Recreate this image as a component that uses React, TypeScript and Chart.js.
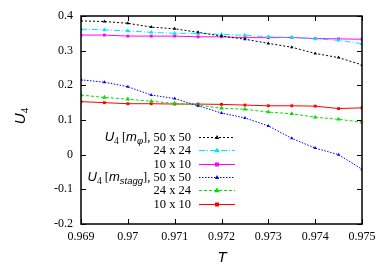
import React, { useEffect, useRef } from 'react';
import { Chart, registerables } from 'chart.js';

Chart.register(...registerables);

const temps = [0.969, 0.9695, 0.97, 0.9705, 0.971, 0.9715, 0.972, 0.9725, 0.973, 0.9735, 0.974, 0.9745, 0.975];
const mphi50 = [0.386, 0.384, 0.379, 0.368, 0.363, 0.353, 0.342, 0.333, 0.321, 0.310, 0.292, 0.280, 0.259];
const mphi24 = [0.362, 0.360, 0.357, 0.353, 0.350, 0.350, 0.347, 0.344, 0.340, 0.338, 0.334, 0.330, 0.320];
const mphi10 = [0.345, 0.345, 0.342, 0.342, 0.342, 0.340, 0.340, 0.3375, 0.3375, 0.338, 0.335, 0.334, 0.333];
const stagg50 = [0.216, 0.209, 0.196, 0.172, 0.162, 0.141, 0.120, 0.106, 0.083, 0.047, 0.019, 0.000, -0.042];
const stagg24 = [0.172, 0.165, 0.160, 0.154, 0.148, 0.143, 0.134, 0.131, 0.123, 0.118, 0.108, 0.102, 0.094];
const stagg10 = [0.153, 0.150, 0.147, 0.147, 0.146, 0.146, 0.145, 0.143, 0.141, 0.141, 0.140, 0.133, 0.135];
const sizeLabels = ['50 x 50', '24 x 24', '10 x 10', '50 x 50', '24 x 24', '10 x 10'];

const SERIF = '"Liberation Serif", "DejaVu Serif", serif';
const SANS = '"Liberation Sans", "DejaVu Sans", sans-serif';

const styles = [
  { color: '#000000', dash: [2, 2], shape: 'triangle', r: 2 },
  { color: '#00e5ff', dash: [6, 2, 1, 2], shape: 'triangle', r: 2.6 },
  { color: '#ff00ff', dash: [], shape: 'rect', r: 2 },
  { color: '#0000ff', dash: [1.5, 1.5], shape: 'triangle', r: 2 },
  { color: '#00e000', dash: [3, 2], shape: 'triangle', r: 2.6 },
  { color: '#ff0000', dash: [], shape: 'rect', r: 2 },
];
const seriesList = [mphi50, mphi24, mphi10, stagg50, stagg24, stagg10];

type Seg = { t: string; f: string; dy?: number };

function drawRich(ctx: CanvasRenderingContext2D, segs: Seg[], rightX: number, baseY: number) {
  let total = 0;
  for (const s of segs) { ctx.font = s.f; total += ctx.measureText(s.t).width; }
  let x = rightX - total;
  ctx.textAlign = 'left';
  ctx.textBaseline = 'alphabetic';
  for (const s of segs) {
    ctx.font = s.f;
    ctx.fillText(s.t, x, baseY + (s.dy || 0));
    x += ctx.measureText(s.t).width;
  }
}

function drawMarker(ctx: CanvasRenderingContext2D, shape: string, x: number, y: number, r: number, color: string) {
  ctx.fillStyle = color;
  ctx.beginPath();
  if (shape === 'rect') {
    ctx.rect(x - r, y - r, 2 * r, 2 * r);
  } else {
    ctx.moveTo(x, y - r * 1.2);
    ctx.lineTo(x + r * 1.1, y + r * 0.7);
    ctx.lineTo(x - r * 1.1, y + r * 0.7);
    ctx.closePath();
  }
  ctx.fill();
}

const framePlugin = {
  id: 'frame',
  afterDraw(chart: any) {
    const { ctx, chartArea: a, scales } = chart;
    ctx.save();
    ctx.strokeStyle = '#000';
    ctx.lineWidth = 1.5;
    ctx.setLineDash([]);
    ctx.strokeRect(a.left, a.top, a.right - a.left, a.bottom - a.top);
    ctx.lineWidth = 1;
    ctx.beginPath();
    scales.y.ticks.forEach((t: any) => {
      const py = Math.round(scales.y.getPixelForValue(t.value)) + 0.5;
      ctx.moveTo(a.left, py); ctx.lineTo(a.left + 5, py);
      ctx.moveTo(a.right, py); ctx.lineTo(a.right - 5, py);
    });
    scales.x.ticks.forEach((t: any) => {
      const px = Math.round(scales.x.getPixelForValue(t.value)) + 0.5;
      ctx.moveTo(px, a.bottom); ctx.lineTo(px, a.bottom - 5);
      ctx.moveTo(px, a.top); ctx.lineTo(px, a.top + 5);
    });
    ctx.stroke();

    // legend
    ctx.fillStyle = '#000';
    const fSerif = `12.5px ${SERIF}`;
    const fIt = `italic 13px ${SANS}`;
    const fSub = `9.5px ${SERIF}`;
    const fSubIt = `italic 9.5px ${SANS}`;
    for (let i = 0; i < 6; i++) {
      const cy = 137 + i * 13.3;
      const base = cy + 4;
      ctx.fillStyle = '#000';
      let segs: Seg[];
      if (i === 0) {
        segs = [
          { t: 'U', f: fIt }, { t: '4', f: fSub, dy: 3 }, { t: ' [', f: fSerif },
          { t: 'm', f: fIt }, { t: 'φ', f: fSubIt, dy: 3 }, { t: '], ' + sizeLabels[i], f: fSerif },
        ];
      } else if (i === 3) {
        segs = [
          { t: 'U', f: fIt }, { t: '4', f: fSub, dy: 3 }, { t: ' [', f: fSerif },
          { t: 'm', f: fIt }, { t: 'stagg', f: fSubIt, dy: 3 }, { t: '], ' + sizeLabels[i], f: fSerif },
        ];
      } else {
        segs = [{ t: sizeLabels[i], f: fSerif }];
      }
      drawRich(ctx, segs, 191, base);
      const st = styles[i];
      ctx.strokeStyle = st.color;
      ctx.lineWidth = 1;
      ctx.setLineDash(st.dash);
      ctx.beginPath();
      ctx.moveTo(199, Math.round(cy) + 0.5);
      ctx.lineTo(235, Math.round(cy) + 0.5);
      ctx.stroke();
      ctx.setLineDash([]);
      drawMarker(ctx, st.shape, 217, Math.round(cy) + 0.5, st.r, st.color);
    }

    // axis titles
    ctx.fillStyle = '#000';
    ctx.save();
    ctx.translate(25, 116);
    ctx.rotate(-Math.PI / 2);
    ctx.font = `italic 15px ${SANS}`;
    const wU = ctx.measureText('U').width;
    ctx.font = `11px ${SERIF}`;
    const w4 = ctx.measureText('4').width;
    const start = -(wU + w4) / 2;
    ctx.textAlign = 'left';
    ctx.textBaseline = 'alphabetic';
    ctx.font = `italic 15px ${SANS}`;
    ctx.fillText('U', start, 0);
    ctx.font = `11px ${SERIF}`;
    ctx.fillText('4', start + wU, 3);
    ctx.restore();

    ctx.font = `italic 15px ${SANS}`;
    ctx.textAlign = 'center';
    ctx.textBaseline = 'alphabetic';
    ctx.fillText('T', 222, 262);
    ctx.restore();
  },
};

export default function App() {
  const ref = useRef<HTMLCanvasElement>(null);
  useEffect(() => {
    const canvas = ref.current;
    if (!canvas) return;
    const datasets = seriesList.map((vals, i) => ({
      label: sizeLabels[i],
      data: temps.map((t, k) => ({ x: t, y: vals[k] })),
      borderColor: styles[i].color,
      backgroundColor: styles[i].color,
      borderWidth: 1,
      borderDash: styles[i].dash,
      pointStyle: styles[i].shape as any,
      pointRadius: styles[i].r,
      pointBorderWidth: 0,
      tension: 0,
    }));
    const chart = new Chart(canvas, {
      type: 'line',
      data: { datasets },
      options: {
        animation: false,
        responsive: false,
        devicePixelRatio: 1,
        layout: { padding: { left: 0, top: 16, right: 20, bottom: 0 } },
        plugins: { legend: { display: false }, tooltip: { enabled: false } },
        scales: {
          x: {
            type: 'linear',
            min: 0.969,
            max: 0.975,
            grid: { display: false, drawTicks: false },
            border: { display: false },
            ticks: {
              stepSize: 0.001,
              padding: 6,
              color: '#000',
              font: { family: SERIF, size: 12 },
              maxRotation: 0,
              callback: (v: any) => String(parseFloat(Number(v).toFixed(3))),
            },
            afterFit: (s: any) => { s.height = 43; },
          },
          y: {
            type: 'linear',
            min: -0.2,
            max: 0.4,
            grid: { display: false, drawTicks: false },
            border: { display: false },
            ticks: {
              stepSize: 0.1,
              padding: 8,
              color: '#000',
              font: { family: SERIF, size: 12 },
              callback: (v: any) => String(parseFloat(Number(v).toFixed(1))),
            },
            afterFit: (s: any) => { s.width = 81; },
          },
        },
      },
      plugins: [framePlugin],
    });
    return () => chart.destroy();
  }, []);
  return (
    <div style={{ position: 'absolute', left: 0, top: 0, width: 382, height: 267, background: '#fff' }}>
      <canvas ref={ref} width={382} height={267} />
    </div>
  );
}
